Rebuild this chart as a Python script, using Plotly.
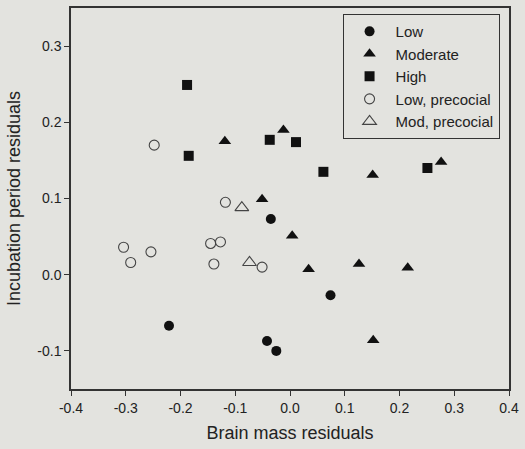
import plotly.graph_objects as go

low_x = [-0.035, -0.221, -0.042, -0.025, 0.074]
low_y = [0.073, -0.067, -0.087, -0.100, -0.027]

mod_x = [-0.119, -0.012, -0.051, 0.004, 0.151, 0.276, 0.034, 0.126, 0.215, 0.152]
mod_y = [0.175, 0.190, 0.099, 0.051, 0.131, 0.148, 0.007, 0.014, 0.009, -0.086]

high_x = [-0.188, -0.185, -0.037, 0.011, 0.061, 0.251]
high_y = [0.249, 0.156, 0.177, 0.174, 0.135, 0.140]

lowp_x = [-0.248, -0.118, -0.304, -0.291, -0.254, -0.145, -0.127, -0.139, -0.051]
lowp_y = [0.170, 0.095, 0.036, 0.016, 0.030, 0.041, 0.043, 0.014, 0.010]

modp_x = [-0.088, -0.074]
modp_y = [0.088, 0.016]

x_ticks = [-0.4, -0.3, -0.2, -0.1, 0.0, 0.1, 0.2, 0.3, 0.4]
y_ticks = [-0.1, 0.0, 0.1, 0.2, 0.3]

bg = "#e3e3df"
ink = "#111111"
FONT = "Liberation Sans, Arial"

fig = go.Figure()
fig.add_trace(go.Scatter(x=low_x, y=low_y, mode="markers", name="Low",
                         marker=dict(symbol="circle", size=10, color=ink)))
fig.add_trace(go.Scatter(x=mod_x, y=mod_y, mode="markers", name="Moderate",
                         marker=dict(symbol="triangle-up", size=11, color=ink)))
fig.add_trace(go.Scatter(x=high_x, y=high_y, mode="markers", name="High",
                         marker=dict(symbol="square", size=10, color=ink)))
fig.add_trace(go.Scatter(x=lowp_x, y=lowp_y, mode="markers", name="Low, precocial",
                         marker=dict(symbol="circle-open", size=10, color="#444444",
                                     line=dict(width=1.1))))
fig.add_trace(go.Scatter(x=modp_x, y=modp_y, mode="markers", name="Mod, precocial",
                         marker=dict(symbol="triangle-up-open", size=12, color="#444444",
                                     line=dict(width=1.1))))

axis_common = dict(showgrid=False, zeroline=False, showline=True, linecolor="#333333",
                   linewidth=1.5, mirror=True, ticks="outside", ticklen=5,
                   tickcolor="#333333", tickfont=dict(family=FONT, size=14, color="#222222"))

fig.update_xaxes(range=[-0.4, 0.4], tickvals=x_ticks,
                 ticktext=[f"{v:.1f}" for v in x_ticks],
                 title=dict(text="Brain mass residuals", font=dict(family=FONT, size=18, color="#222222"), standoff=12),
                 **axis_common)
fig.update_yaxes(range=[-0.15, 0.35], tickvals=y_ticks,
                 ticktext=[f"{v:.1f}" for v in y_ticks],
                 title=dict(text="Incubation period residuals", font=dict(family=FONT, size=18, color="#222222"), standoff=12),
                 **axis_common)

fig.update_layout(
    width=525, height=449,
    margin=dict(l=71, r=13, t=6, b=60),
    paper_bgcolor=bg, plot_bgcolor=bg,
    font=dict(family=FONT, color="#222222"),
    legend=dict(x=0.62, y=0.984, xanchor="left", yanchor="top",
                bgcolor=bg, bordercolor="#333333", borderwidth=1,
                font=dict(size=15, family=FONT, color="#222222"),
                tracegroupgap=0, itemsizing="trace", itemwidth=42),
    showlegend=True,
)

fig.write_html("out.html", config={"displayModeBar": False},
               post_script="document.body.style.margin='0';document.body.style.overflow='hidden';")
